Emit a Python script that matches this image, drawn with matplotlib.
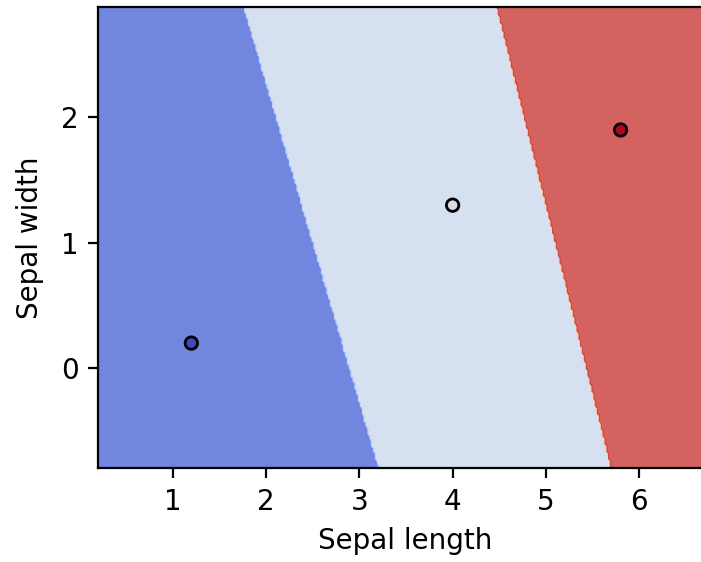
import numpy as np
import matplotlib
matplotlib.use("Agg")
import matplotlib.pyplot as plt

# training points (sepal length, sepal width) and their classes
sepal_length = [1.2, 4.0, 5.8]
sepal_width = [0.2, 1.3, 1.9]
labels = [0, 1, 2]
width_ticks = [0, 1, 2]

X = np.column_stack([sepal_length, sepal_width])
y = np.array(labels)

# mesh to plot the decision regions in
h = .02
x_min, x_max = X[:, 0].min() - 1, X[:, 0].max() + 1
y_min, y_max = X[:, 1].min() - 1, X[:, 1].max() + 1
xx, yy = np.meshgrid(np.arange(x_min, x_max, h), np.arange(y_min, y_max, h))

# linear classifier on three points -> regions split by perpendicular bisectors
grid = np.c_[xx.ravel(), yy.ravel()]
d = ((grid[:, None, :] - X[None, :, :]) ** 2).sum(axis=2)
Z = y[d.argmin(axis=1)].reshape(xx.shape)

fig = plt.figure(figsize=(7.01 / 2, 5.62 / 2), dpi=200)
ax = fig.add_axes([0.1398, 0.1664, 0.876, 0.821])
ax.contourf(xx, yy, Z, cmap=plt.cm.coolwarm, alpha=0.8)
ax.scatter(X[:, 0], X[:, 1], c=y, cmap=plt.cm.coolwarm, edgecolors='k', s=20)
ax.set_xlabel('Sepal length')
ax.set_ylabel('Sepal width', labelpad=6)
ax.set_xlim(xx.min(), xx.max())
ax.set_ylim(yy.min(), yy.max())
ax.set_yticks(width_ticks)

fig.savefig('out.png', dpi=200)
